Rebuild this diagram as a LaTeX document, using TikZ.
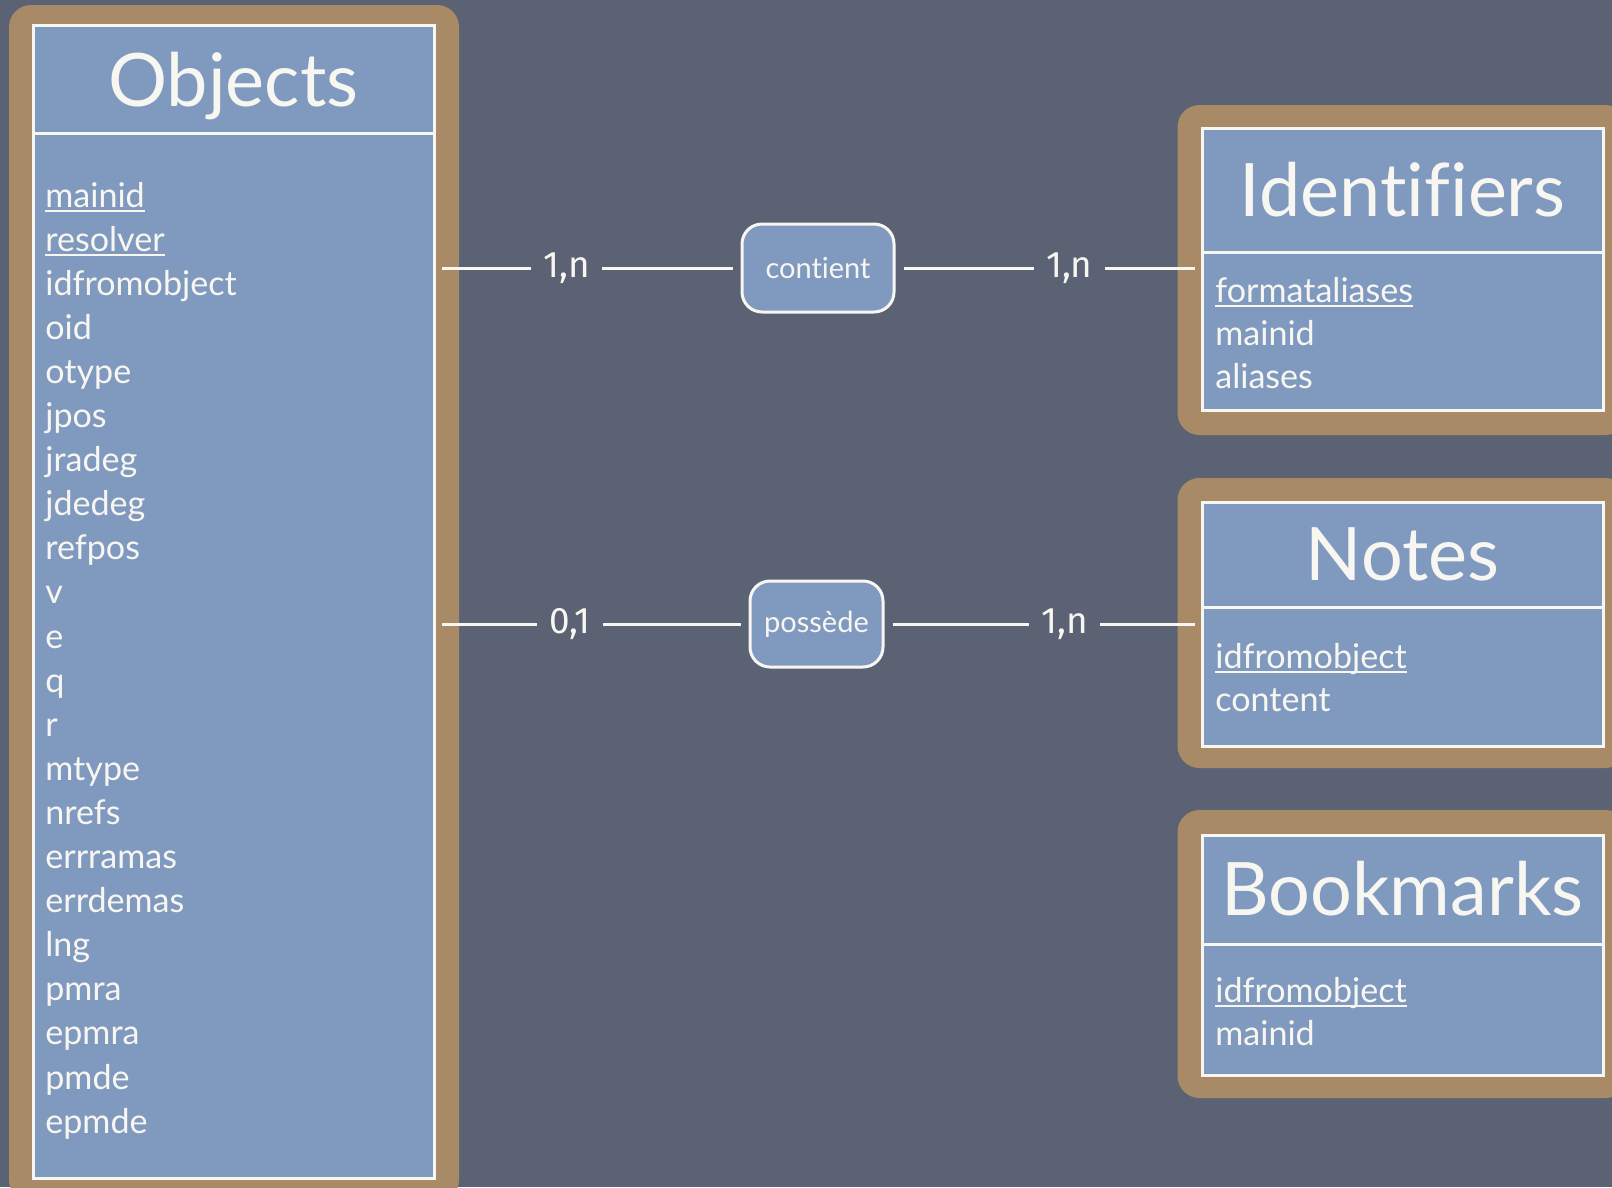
\documentclass[tikz,border=0pt]{standalone}
\usepackage{fontspec}
\setmainfont{Lato}[Ligatures=NoCommon]
\newfontfamily\cardfont{Fira Sans}
\usepackage{tikz}
\usetikzlibrary{positioning}
\definecolor{slate}{RGB}{90, 98, 116}
\definecolor{wood}{RGB}{168, 138, 102}
\definecolor{paper}{RGB}{128, 154, 191}
\definecolor{chalk}{RGB}{248, 246, 241}
\newcommand{\pix}{0.02cm}
\tikzstyle{woodframe} = [rectangle, rounded corners=0.44cm, fill=wood, inner sep=0pt]
\tikzstyle{entity} = [rectangle, draw=chalk, line width=0.06cm, fill=paper, inner sep=0pt]
\tikzstyle{divider} = [draw=chalk, line width=0.045cm]
\tikzstyle{title} = [text=chalk, anchor=base, inner sep=0pt, font=\fontsize{42}{50}\selectfont]
\tikzstyle{attr} = [text=chalk, anchor=base west, inner sep=0pt, font=\fontsize{19.4}{25}\selectfont]
\tikzstyle{uline} = [draw=chalk, line width=0.03cm]
\tikzstyle{relation} = [rectangle, rounded corners=0.4cm, draw=chalk, line width=0.06cm, fill=paper, text=chalk, minimum width=133*\pix, minimum height=86*\pix, font=\fontsize{16.5}{20}\selectfont]
\tikzstyle{link} = [draw=chalk, line width=0.06cm, shorten <=0.16cm, shorten >=0.12cm]
\tikzstyle{card} = [pos=0.57, fill=slate, text=chalk, inner xsep=12*\pix, inner ysep=2pt, font=\cardfont\fontsize{21}{24}\selectfont]

\begin{document}
\begin{tikzpicture}[x=0.02cm, y=-0.02cm]
    \useasboundingbox (0,0) rectangle (1612,1187);
    \clip (0,0) rectangle (1612,1187);
    \fill[slate] (0,0) rectangle (1612,1187);

    % Objects
    \node[woodframe, minimum width=450*\pix, minimum height=1197*\pix] (objects-frame) at (234,603.5) {};
    \node[entity, minimum width=401*\pix, minimum height=1153*\pix] (objects) at (233.5,601.5) {};
    \draw[divider] ([yshift=-110*\pix]objects.north west) -- ([yshift=-110*\pix]objects.north east);
    \node[title] (objects-title) at ([yshift=-83*\pix]objects.north) {Objects};
    \foreach \attr [count=\i] in {mainid, resolver, idfromobject, oid, otype, jpos, jradeg, jdedeg, refpos, v, e, q, r, mtype, nrefs, errramas, errdemas, lng, pmra, epmra, pmde, epmde}
        \node[attr] (obj\i) at (45,162.9+44.1*\i) {\attr};
    \foreach \i in {1,2}
        \draw[uline] ([yshift=-4*\pix]obj\i.base west) -- ([yshift=-4*\pix]obj\i.base east);

    % Identifiers
    \node[woodframe, minimum width=450*\pix, minimum height=330*\pix] (identifiers-frame) at (1402.5,270) {};
    \node[entity, minimum width=401*\pix, minimum height=282*\pix] (identifiers) at (1402.5,269) {};
    \draw[divider] ([yshift=-126*\pix]identifiers.north west) -- ([yshift=-126*\pix]identifiers.north east);
    \node[title] (identifiers-title) at ([yshift=-90*\pix]identifiers.north) {Identifiers};
    \node[attr] (idt1) at (1215,302) {formataliases};
    \node[attr] (idt2) at (1215,345) {mainid};
    \node[attr] (idt3) at (1215,388) {aliases};
    \draw[uline] ([yshift=-4*\pix]idt1.base west) -- ([yshift=-4*\pix]idt1.base east);

    % Notes
    \node[woodframe, minimum width=450*\pix, minimum height=290*\pix] (notes-frame) at (1402.5,623) {};
    \node[entity, minimum width=401*\pix, minimum height=244*\pix] (notes) at (1402.5,624) {};
    \draw[divider] ([yshift=-107*\pix]notes.north west) -- ([yshift=-107*\pix]notes.north east);
    \node[title] (notes-title) at ([yshift=-80*\pix]notes.north) {Notes};
    \node[attr] (nt1) at (1215,668) {idfromobject};
    \node[attr] (nt2) at (1215,711) {content};
    \draw[uline] ([yshift=-4*\pix]nt1.base west) -- ([yshift=-4*\pix]nt1.base east);

    % Bookmarks
    \node[woodframe, minimum width=450*\pix, minimum height=288*\pix] (bookmarks-frame) at (1402.5,954) {};
    \node[entity, minimum width=401*\pix, minimum height=240*\pix] (bookmarks) at (1402.5,955) {};
    \draw[divider] ([yshift=-111*\pix]bookmarks.north west) -- ([yshift=-111*\pix]bookmarks.north east);
    \node[title] (bookmarks-title) at ([yshift=-82*\pix]bookmarks.north) {Bookmarks};
    \node[attr] (bk1) at (1215,1002) {idfromobject};
    \node[attr] (bk2) at (1215,1045) {mainid};
    \draw[uline] ([yshift=-4*\pix]bk1.base west) -- ([yshift=-4*\pix]bk1.base east);

    % Relations
    \node[relation, minimum width=152*\pix, minimum height=88*\pix] (contient) at (818,268) {contient};
    \node[relation] (possede) at (816.5,624) {possède};

    \draw[link] (contient.west) -- node[card] {1,n} (objects.east |- contient.west);
    \draw[link] (contient.east) -- node[card] {1,n} (identifiers.west |- contient.east);
    \draw[link] (possede.west) -- node[card] {0,1} (objects.east |- possede.west);
    \draw[link] (possede.east) -- node[card] {1,n} (notes.west |- possede.east);
\end{tikzpicture}
\end{document}
